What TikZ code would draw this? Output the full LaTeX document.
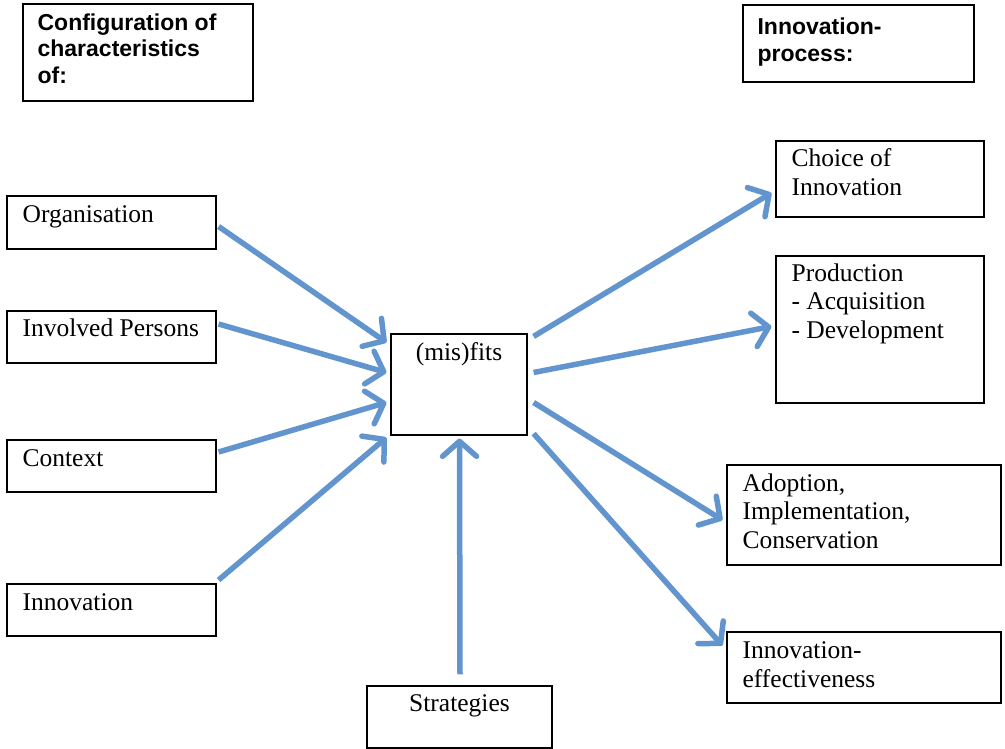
\documentclass[tikz,border=0pt]{standalone}
\usepackage{fontspec}
\setmainfont{Liberation Serif}
\setsansfont{Liberation Sans}
\usetikzlibrary{arrows.meta,calc,fit}

\definecolor{flowblue}{RGB}{98,148,206}

% a multi-line node sits on the baseline of its last line
\tikzset{
  box/.style={draw, line width=1.2pt, inner sep=0pt, fill=white},
  boxtext/.style={anchor=base west, align=left, inner sep=0pt,
    font=\fontsize{25.5}{28.5}\selectfont},
  headtext/.style={anchor=base west, align=left, inner sep=0pt,
    font=\sffamily\bfseries\fontsize{23}{26.5}\selectfont},
  flow/.style={draw=flowblue, line width=5.5pt,
    -{Straight Barb[length=15pt,width=34pt,line width=5.5pt,round]}}
}

\begin{document}
\begin{tikzpicture}[x=1pt,y=-1pt]
  \useasboundingbox (0,0) rectangle (1005,749);

  % headings
  \node[box, fit={(23,4) (253,101)}] (head1) {};
  \node[headtext] (head1-t) at ($(head1.north west)+(15,80)$)
    {Configuration of\\characteristics\\of:};
  \node[box, fit={(743,5) (974,82)}] (head2) {};
  \node[headtext] (head2-t) at ($(head2.north west)+(15,57)$)
    {Innovation-\\process:};

  % characteristics (left)
  \node[box, fit={(7,196) (216,249)}] (org) {};
  \node[boxtext] (org-t) at ($(org.north west)+(16,27)$) {Organisation};
  \node[box, fit={(7,311) (216,363)}] (pers) {};
  \node[boxtext] (pers-t) at ($(pers.north west)+(16,26)$) {Involved Persons};
  \node[box, fit={(7,440) (216,492)}] (ctx) {};
  \node[boxtext] (ctx-t) at ($(ctx.north west)+(16,27)$) {Context};
  \node[box, fit={(7,584) (216,636)}] (inno) {};
  \node[boxtext] (inno-t) at ($(inno.north west)+(16,27)$) {Innovation};

  % centre
  \node[box, fit={(391,334) (527,435)}] (fits) {};
  \node[boxtext, anchor=base] (fits-t) at ($(fits.north)+(0,27)$) {(mis)fits};
  \node[box, fit={(367,686) (552,748)}] (strat) {};
  \node[boxtext, anchor=base] (strat-t) at ($(strat.north)+(0,26)$) {Strategies};

  % innovation process (right)
  \node[box, fit={(776,141) (984,217)}] (choice) {};
  \node[boxtext] (choice-t) at ($(choice.north west)+(16,55)$)
    {Choice of\\Innovation};
  \node[box, fit={(776,256) (984,403)}] (prod) {};
  \node[boxtext] (prod-t) at ($(prod.north west)+(16,83)$)
    {Production\\- Acquisition\\- Development};
  \node[box, fit={(727,465) (1001,565)}] (adopt) {};
  \node[boxtext] (adopt-t) at ($(adopt.north west)+(16,84)$)
    {Adoption,\\Implementation,\\Conservation};
  \node[box, fit={(727,632) (1001,703)}] (effect) {};
  \node[boxtext] (effect-t) at ($(effect.north west)+(16,56)$)
    {Innovation-\\effectiveness};

  % arrows into (mis)fits
  \draw[flow] ($(org.east)+(2,4)$) -- ($(fits.north west)+(-4,9)$);
  \draw[flow] ($(pers.east)+(2,-13)$) -- ($(fits.west)+(-4,-12)$);
  \draw[flow] ($(ctx.east)+(2,-14)$) -- ($(fits.west)+(-4,18)$);
  \draw[flow] ($(inno.east)+(2,-30)$) -- ($(fits.south west)+(-4,2)$);
  \draw[flow] ($(strat.north)+(0.5,-11)$) -- ($(fits.south)+(0.5,3)$);

  % arrows out of (mis)fits
  \draw[flow] ($(fits.north east)+(6,3)$) -- ($(choice.west)+(-4,14)$);
  \draw[flow] ($(fits.east)+(6,-12)$) -- ($(prod.west)+(-4,-3)$);
  \draw[flow] ($(fits.east)+(6,18)$) -- ($(adopt.west)+(-4,5)$);
  \draw[flow] ($(fits.south east)+(6,-2)$) -- ($(effect.west)+(-4,-22)$);
\end{tikzpicture}
\end{document}
